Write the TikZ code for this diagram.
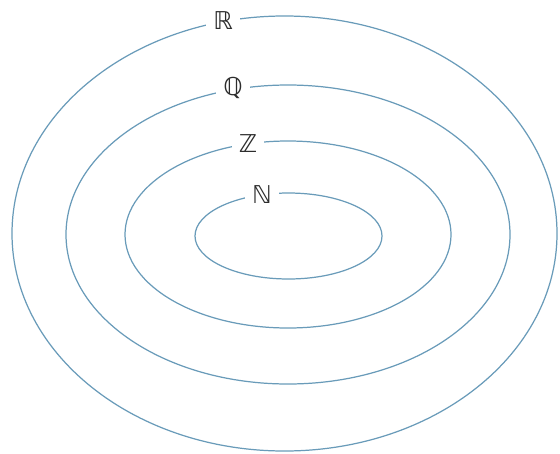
\documentclass[tikz,border=0pt]{standalone}
\usepackage{fontspec}
\newfontfamily\setfont{DejaVu Sans}
\usepackage{xcolor}
\usepackage{tikz}
\usetikzlibrary{positioning}
\definecolor{ring}{RGB}{105,155,185}
\definecolor{ink}{RGB}{45,45,45}
\tikzset{
  setline/.style={draw=ring,line width=0.7pt},
  setlbl/.style={fill=white,text=ink,font=\setfont\fontsize{14}{14}\selectfont,inner sep=4pt},
}

\begin{document}
\begin{tikzpicture}[x=0.02cm,y=-0.02cm]
  \useasboundingbox (0,0) rectangle (560,453);
  % nested sets
  \draw[setline] (284.5,233.5) ellipse [x radius=272.5,y radius=217.5];
  \draw[setline] (288,234.5) ellipse [x radius=222,y radius=149.5];
  \draw[setline] (288,234.5) ellipse [x radius=163,y radius=93.5];
  \draw[setline] (288.5,236) ellipse [x radius=93.5,y radius=43];
  % labels on the rings
  \node[setlbl] (R) at (223,21) {ℝ};
  \node[setlbl] (Q) at (233,88) {ℚ};
  \node[setlbl] (Z) at (248,144) {ℤ};
  \node[setlbl] (N) at (262,195) {ℕ};
\end{tikzpicture}
\end{document}
